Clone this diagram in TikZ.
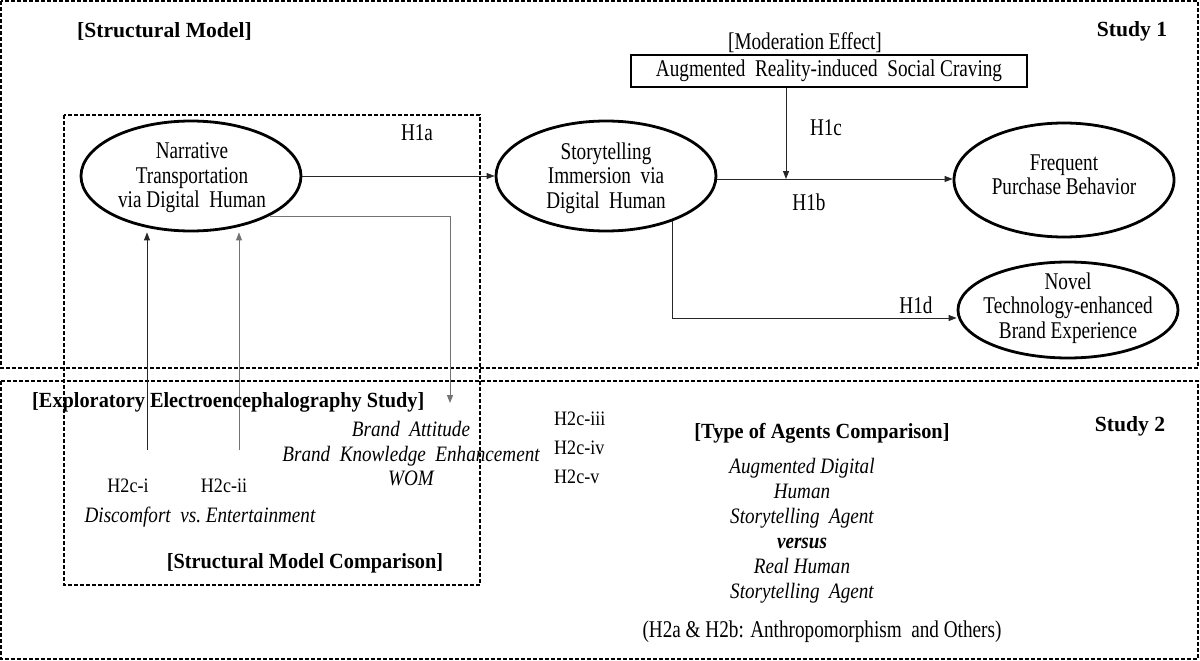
\documentclass[tikz,border=0pt]{standalone}
\usepackage{fontspec}
\setmainfont{Liberation Serif}[FakeStretch=0.8]
\newfontfamily\itfam{Liberation Serif}[FakeStretch=0.87]
\newfontfamily\hfont{Liberation Serif}[FakeStretch=0.94]
\newfontfamily\hfontw{Liberation Serif}
\newfontfamily\hyfam{Liberation Serif}[FakeStretch=0.88]
\usetikzlibrary{shapes.geometric,arrows.meta}
\begin{document}
\begin{tikzpicture}[x=1pt,y=-1pt,
  reg/.style={font=\fontsize{24}{24.5}\selectfont, inner sep=0pt, align=center},
  hyp/.style={font=\hyfam\fontsize{20.5}{24}\selectfont, inner sep=0pt, align=center},
  ita/.style={font=\itfam\fontsize{22}{24.5}\selectfont\itshape, inner sep=0pt, align=center},
  head/.style={font=\hfont\bfseries\fontsize{21.6}{25}\selectfont, inner sep=0pt},
  headw/.style={font=\hfontw\bfseries\fontsize{21.6}{25}\selectfont, inner sep=0pt},
  ell/.style={draw, ellipse, line width=2.8pt, inner sep=0pt},
  arr/.style={-{Triangle[length=8pt,width=6pt]}, line width=1pt, draw=black!85},
  garr/.style={arr, draw=black!55},
  dbox/.style={draw, line width=1.6pt, dash pattern=on 4pt off 2pt},
]
\useasboundingbox (0,0) rectangle (1200,661);
% frames
\draw[dbox] (1,1) rectangle (1198,368);
\draw[dbox] (1,381) rectangle (1198,659);
\draw[dbox] (64,115) rectangle (480,585);

% ellipses
\node[ell, minimum width=220pt, minimum height=110pt] (e1) at (191,176) {};
\node[reg] (t1) at (192,178) {Narrative\\Transportation\\via Digital\ \ Human};
\node[ell, minimum width=220pt, minimum height=110pt] (e2) at (606,176) {};
\node[reg] (t2) at (606,178) {Storytelling\\Immersion\ \ via\\Digital\ \ Human};
\node[ell, minimum width=220pt, minimum height=114pt] (e3) at (1064,180) {};
\node[reg] (t3) at (1064,175) {Frequent\\Purchase Behavior};
\node[ell, minimum width=220pt, minimum height=96pt] (e4) at (1068,310) {};
\node[reg] (t4) at (1068,308) {Novel\\Technology-enhanced\\Brand Experience};

% moderation
\node[reg] (modl) at (805,43) {[Moderation Effect]};
\node[reg, draw, line width=1.5pt, minimum width=396pt, minimum height=32pt] (mod) at (829,71) {Augmented\ \ Reality-induced\ \ Social Craving};

% coordinates
\coordinate (j) at (786,179);
\coordinate (c4) at (672,318);
\coordinate (c5) at (450,403);
\coordinate (c1) at (147,450);
\coordinate (c2) at (239,450);

% connectors
\draw[arr] (e1) -- (e2);
\draw[arr] (mod.south -| j) -- (j);
\draw[arr] (e2.east |- j) -- (e3.west |- j);
\draw[arr] (e2.-34) |- (e4.west |- c4);
\draw[garr] (e1.-27) -| (c5);
\draw[arr] (c1) -- (c1 |- e1.south);
\draw[garr] (c2) -- (c2 |- e1.south);

% hypothesis labels
\node[reg] (h1a) at (417,133) {H1a};
\node[reg] (h1c) at (826,128) {H1c};
\node[reg] (h1b) at (809,202) {H1b};
\node[reg] (h1d) at (916,305) {H1d};

% headings
\node[headw, anchor=west] (sm) at (77,31) {[Structural Model]};
\node[headw] (s1) at (1132,31) {Study 1};
\node[head, anchor=west] (eeg) at (32,402) {[Exploratory Electroencephalography Study]};
\node[head] (smc) at (305,563) {[Structural Model Comparison]};
\node[headw] (s2) at (1130,426) {Study 2};
\node[head] (tac) at (822,433) {[Type of Agents Comparison]};

% study 2 texts
\node[ita] (bk) at (411,454) {Brand\ \ Attitude\\Brand\ \ Knowledge\ \ Enhancement\\WOM};
\node[hyp, align=left, anchor=west, font=\hyfam\fontsize{20.5}{29}\selectfont] (h2c) at (554,448) {H2c-iii\\H2c-iv\\H2c-v};
\node[hyp] (h2ci) at (128,486) {H2c-i};
\node[hyp] (h2cii) at (224,486) {H2c-ii};
\node[ita] (dis) at (200,517) {Discomfort\ \ vs.\ Entertainment};
\node[ita, font=\itfam\fontsize{22}{25}\selectfont\itshape] (agents) at (802,531) {Augmented Digital\\Human\\Storytelling\ \ Agent\\\textbf{versus}\\Real Human\\Storytelling\ \ Agent};
\node[reg] (anth) at (822,632) {(H2a \& H2b: Anthropomorphism\ \ and Others)};
\end{tikzpicture}
\end{document}
